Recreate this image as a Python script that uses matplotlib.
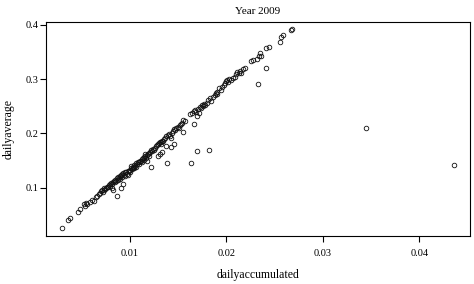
import numpy as np
import matplotlib
matplotlib.use("Agg")
import matplotlib.pyplot as plt

plt.rcParams['font.family'] = ['Liberation Serif', 'DejaVu Serif']

# points (dailyaccumulated, dailyaverage)
pts = [
    (0.00303, 0.0252), (0.00362, 0.0405), (0.00379, 0.0436), (0.00462, 0.0546), (0.00486, 0.0601),
    (0.00531, 0.0699), (0.00548, 0.0724), (0.0054, 0.0663), (0.0056, 0.0690), (0.0059, 0.0742),
    (0.00607, 0.0773), (0.0063, 0.0760), (0.0065, 0.0820), (0.0066, 0.0850), (0.0068, 0.0880),
    (0.0069, 0.0910), (0.0070, 0.0935), (0.0071, 0.0950), (0.0072, 0.0920), (0.0073, 0.0960),
    (0.0074, 0.0990), (0.0075, 0.0970), (0.0076, 0.1000), (0.0077, 0.1020), (0.0078, 0.1010),
    (0.0079, 0.1050), (0.0080, 0.1060), (0.0080, 0.1040), (0.0081, 0.1080), (0.0082, 0.1070),
    (0.0082, 0.1000), (0.0083, 0.1100), (0.0083, 0.0950), (0.0084, 0.1120), (0.0085, 0.1100),
    (0.0085, 0.1150), (0.0086, 0.1130), (0.0087, 0.0850), (0.0087, 0.1170), (0.0088, 0.1140),
    (0.0088, 0.1200), (0.0089, 0.1180), (0.0090, 0.1210), (0.0090, 0.1160), (0.0091, 0.1230),
    (0.0091, 0.0990), (0.0092, 0.1250), (0.0092, 0.1200), (0.0093, 0.1060), (0.0093, 0.1270),
    (0.0094, 0.1240), (0.0095, 0.1280), (0.0095, 0.1220), (0.0096, 0.1290), (0.0097, 0.1260),
    (0.0098, 0.1310), (0.0098, 0.1230), (0.0099, 0.1300), (0.0100, 0.1330), (0.0100, 0.1280),
    (0.0101, 0.1360), (0.0101, 0.1400), (0.0102, 0.1340), (0.0103, 0.1370), (0.0104, 0.1390),
    (0.0105, 0.1360), (0.0105, 0.1420), (0.0106, 0.1400), (0.0107, 0.1450), (0.0107, 0.1380),
    (0.0108, 0.1430), (0.0109, 0.1470), (0.0110, 0.1480), (0.0110, 0.1440), (0.0111, 0.1500),
    (0.0112, 0.1490), (0.0113, 0.1520), (0.0113, 0.1470), (0.0114, 0.1540), (0.0115, 0.1560),
    (0.0115, 0.1510), (0.0116, 0.1580), (0.0116, 0.1630), (0.0117, 0.1550), (0.0118, 0.1600),
    (0.0118, 0.1500), (0.0119, 0.1620), (0.0120, 0.1640), (0.0120, 0.1580), (0.0121, 0.1660),
    (0.0122, 0.1390), (0.0122, 0.1700), (0.0123, 0.1680), (0.0124, 0.1720), (0.0125, 0.1700),
    (0.0126, 0.1740), (0.0127, 0.1760), (0.0128, 0.1780), (0.0129, 0.1590), (0.0129, 0.1800),
    (0.0130, 0.1820), (0.0131, 0.1620), (0.0131, 0.1840), (0.0132, 0.1800), (0.0133, 0.1850),
    (0.0134, 0.1660), (0.0134, 0.1870), (0.0135, 0.1860), (0.0136, 0.1900), (0.0137, 0.1920),
    (0.0138, 0.1770), (0.0138, 0.1950), (0.0139, 0.1448), (0.0140, 0.1970), (0.0141, 0.1990),
    (0.0142, 0.1960), (0.0143, 0.1750), (0.0143, 0.1910), (0.0144, 0.2000), (0.0145, 0.2050),
    (0.0146, 0.1800), (0.0146, 0.2080), (0.0147, 0.2060), (0.0148, 0.2100), (0.0150, 0.2120),
    (0.0151, 0.2100), (0.0152, 0.2150), (0.0153, 0.2180), (0.0154, 0.2200), (0.0155, 0.2020),
    (0.0155, 0.2240), (0.0157, 0.2230), (0.0164, 0.1448), (0.0163, 0.2360), (0.0165, 0.2380),
    (0.0167, 0.2170), (0.0167, 0.2410), (0.0168, 0.2440), (0.0169, 0.2400), (0.0170, 0.1680),
    (0.0170, 0.2330), (0.0171, 0.2450), (0.0172, 0.2380), (0.0173, 0.2490), (0.0174, 0.2470),
    (0.0175, 0.2520), (0.0176, 0.2500), (0.0177, 0.2540), (0.0178, 0.2530), (0.0180, 0.2560),
    (0.0181, 0.2620), (0.0182, 0.1700), (0.0183, 0.2650), (0.0184, 0.2600), (0.0186, 0.2680),
    (0.0188, 0.2710), (0.0189, 0.2740), (0.0190, 0.2720), (0.0191, 0.2760), (0.0193, 0.2840),
    (0.0195, 0.2810), (0.0196, 0.2850), (0.0198, 0.2900), (0.0199, 0.2930), (0.0200, 0.2970),
    (0.0201, 0.2990), (0.0202, 0.2950), (0.0203, 0.3000), (0.0205, 0.2980), (0.0207, 0.3020),
    (0.0209, 0.3050), (0.0210, 0.3090), (0.0211, 0.3130), (0.0213, 0.3120), (0.0214, 0.3150),
    (0.0215, 0.3110), (0.0217, 0.3180), (0.0219, 0.3210), (0.0226, 0.3340), (0.0228, 0.3360),
    (0.0233, 0.2920), (0.0232, 0.3380), (0.0234, 0.3430), (0.0235, 0.3490), (0.0236, 0.3420),
    (0.0241, 0.3200), (0.0241, 0.3580), (0.0244, 0.3600), (0.0256, 0.3680), (0.0257, 0.3780),
    (0.0259, 0.3810), (0.0267, 0.3910), (0.0268, 0.3920), (0.0345, 0.2100), (0.0436, 0.1410),
]
dailyaccumulated = [p[0] for p in pts]
dailyaverage = [p[1] for p in pts]

xticks = [0.01, 0.02, 0.03, 0.04]
yticks = [0.1, 0.2, 0.3, 0.4]

fig = plt.figure(figsize=(4.74, 2.84), dpi=100)
ax = fig.add_axes([0.097, 0.169, 0.8946, 0.7535])

ax.plot(dailyaccumulated, dailyaverage, 'o', mfc='none', mec='#111111',
        ms=3.3, mew=0.6)

ax.set_xlim(0.00134, 0.04525)
ax.set_ylim(0.0109, 0.4055)
ax.set_xticks(xticks)
ax.set_xticklabels(['0.01', '0.02', '0.03', '0.04'])
ax.set_yticks(yticks)
ax.set_yticklabels(['0.1', '0.2', '0.3', '0.4'])
ax.tick_params(direction='out', length=4.3, width=0.8, labelsize=7.5)
ax.tick_params(axis='x', pad=5)
ax.tick_params(axis='y', pad=1.2)
for s in ax.spines.values():
    s.set_linewidth(0.8)

ax.set_title('Year 2009', fontsize=8, pad=6)
ax.set_xlabel('dailyaccumulated', fontsize=8.5, va='center')
ax.set_ylabel('dailyaverage', fontsize=8.5, va='center')
ax.xaxis.set_label_coords(0.5, -0.182)
ax.yaxis.set_label_coords(-0.088, 0.5)

fig.savefig('out.png', dpi=100)
